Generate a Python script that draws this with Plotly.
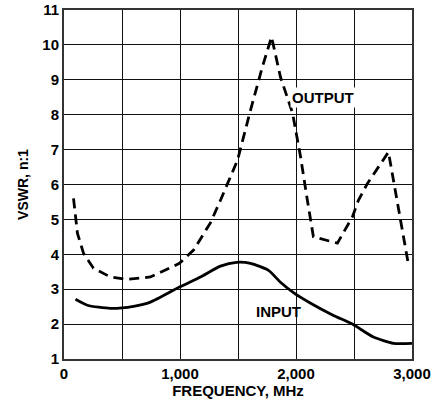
import plotly.graph_objects as go

out_freq = [82, 116, 168, 254, 400, 545, 745, 995, 1117, 1262, 1349, 1496, 1608, 1710, 1789,
            1866, 1970, 2039, 2098, 2150, 2357, 2486, 2538, 2616, 2797, 2840, 2874, 2918, 2970]
out_vswr = [5.6, 4.6, 4.03, 3.6, 3.35, 3.28, 3.35, 3.74, 4.12, 4.9, 5.55, 6.7, 8.13, 9.37, 10.23,
            9.08, 8.05, 6.8, 5.55, 4.5, 4.32, 5.07, 5.55, 6.03, 6.93, 6.12, 5.55, 4.6, 3.69]

in_freq = [99, 202, 400, 600, 745, 995, 1176, 1349, 1487, 1608, 1763, 1866, 1987, 2126, 2323,
           2486, 2667, 2840, 3000]
in_vswr = [2.71, 2.54, 2.45, 2.51, 2.63, 3.06, 3.35, 3.66, 3.77, 3.74, 3.54, 3.2, 2.88, 2.6, 2.25,
           2.0, 1.63, 1.45, 1.45]

x_ticks = [0, 1000, 2000, 3000]
y_ticks = list(range(1, 12))

FONT = "Liberation Sans, Arial, sans-serif"

fig = go.Figure()
fig.add_trace(go.Scatter(x=out_freq, y=out_vswr, mode="lines",
                         line=dict(color="black", width=2.8, dash="10px,6px"),
                         showlegend=False, hoverinfo="skip"))
fig.add_trace(go.Scatter(x=in_freq, y=in_vswr, mode="lines",
                         line=dict(color="black", width=2.8, shape="spline", smoothing=0.6),
                         showlegend=False, hoverinfo="skip"))

fig.add_annotation(x=2237, y=8.5, text="OUTPUT", showarrow=False,
                   bgcolor="white", borderpad=1,
                   font=dict(family=FONT, size=15, color="black", weight="bold"))
fig.add_annotation(x=1851, y=2.37, text="INPUT", showarrow=False,
                   font=dict(family=FONT, size=15, color="black", weight="bold"))

fig.update_layout(
    width=437, height=402,
    margin=dict(l=64, r=25, t=10, b=43),
    paper_bgcolor="white", plot_bgcolor="white",
    font=dict(family=FONT, size=14, color="black", weight="bold"),
    xaxis=dict(range=[0, 3000], tickvals=x_ticks, ticktext=[f"{v:,}" for v in x_ticks],
               tickfont=dict(family=FONT, size=15, weight="bold"),
               showgrid=True, gridcolor="#111", gridwidth=1,
               minor=dict(dtick=500, tick0=0, showgrid=True, gridcolor="#111", gridwidth=1),
               showline=True, linecolor="#333", linewidth=2, mirror=True,
               ticks="", zeroline=False, automargin=False,
               title=dict(text="FREQUENCY, MHz", standoff=4,
                          font=dict(family=FONT, size=15, weight="bold"))),
    yaxis=dict(range=[1, 11], tickvals=y_ticks, ticktext=[str(v) for v in y_ticks],
               tickfont=dict(family=FONT, size=15, weight="bold"),
               showgrid=True, gridcolor="#111", gridwidth=1,
               showline=True, linecolor="#333", linewidth=2, mirror=True,
               ticks="", zeroline=False, automargin=False,
               title=dict(text="VSWR, n:1", standoff=10,
                          font=dict(family=FONT, size=14, weight="bold"))),
)

fig.write_html("out.html")
